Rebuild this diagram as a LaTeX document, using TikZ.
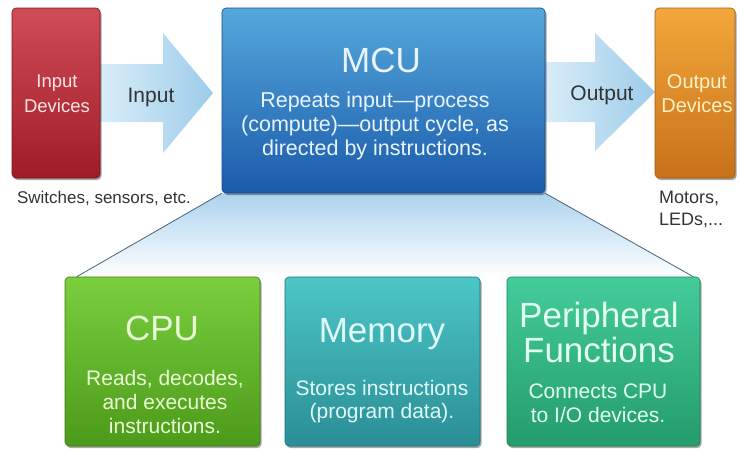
\documentclass[tikz,border=0pt]{standalone}
\usepackage{fontspec}
\setmainfont{Liberation Sans}
\usetikzlibrary{shadows}
\pgfdeclarelayer{background}
\pgfsetlayers{background,main}

% box colours: top / bottom / edge / text
\definecolor{inTop}{HTML}{D04C57}\definecolor{inBot}{HTML}{9E1C28}\definecolor{inEdge}{HTML}{7C121C}\definecolor{inTxt}{HTML}{FBE6E6}
\definecolor{mcuTop}{HTML}{55A8DC}\definecolor{mcuBot}{HTML}{1B5BAA}\definecolor{mcuEdge}{HTML}{134A8E}\definecolor{mcuTxt}{HTML}{EAF4FF}
\definecolor{outTop}{HTML}{F2A83A}\definecolor{outBot}{HTML}{C8701A}\definecolor{outEdge}{HTML}{A25A12}\definecolor{outTxt}{HTML}{FFF2C4}
\definecolor{cpuTop}{HTML}{7ACF3E}\definecolor{cpuBot}{HTML}{4C9A1A}\definecolor{cpuEdge}{HTML}{3C7C12}\definecolor{cpuTxt}{HTML}{EAFCD6}
\definecolor{memTop}{HTML}{4CC6C6}\definecolor{memBot}{HTML}{2A8E96}\definecolor{memEdge}{HTML}{1F7078}\definecolor{memTxt}{HTML}{E0FAFA}
\definecolor{perTop}{HTML}{44CC9A}\definecolor{perBot}{HTML}{249C6C}\definecolor{perEdge}{HTML}{1A7E56}\definecolor{perTxt}{HTML}{E2FFF0}
\definecolor{arrL}{HTML}{DCEEF8}\definecolor{arrR}{HTML}{9CCCEA}
\definecolor{fanTop}{HTML}{ACD2EE}\definecolor{fanLine}{HTML}{4A6276}
\definecolor{note}{HTML}{333333}

% stacked lines, baseline = first line
\newcommand{\ctrlines}[1]{\begin{tabular}[t]{@{}c@{}}#1\end{tabular}}
\newcommand{\leftlines}[1]{\begin{tabular}[t]{@{}l@{}}#1\end{tabular}}

\tikzset{
  box/.style={rectangle, rounded corners=4pt, line width=0.6pt,
    drop shadow={shadow xshift=1.5pt, shadow yshift=-2pt, opacity=0.35, fill=black}},
  txt/.style={anchor=base, inner sep=0pt},
  title/.style={txt, font=\fontsize{35}{33}\selectfont},
  body/.style={txt, font=\fontsize{21}{24}\selectfont},
  arrowshade/.style={left color=arrL, right color=arrR},
  notetxt/.style={txt, text=note}
}

\begin{document}
\begin{tikzpicture}[x=1pt, y=-1pt]
\useasboundingbox (0,0) rectangle (740,448);

% ---- boxes
\node[box, top color=inTop, bottom color=inBot, draw=inEdge,
      minimum width=88, minimum height=170] (indev) at (56,93) {};
\node[box, top color=mcuTop, bottom color=mcuBot, draw=mcuEdge,
      minimum width=323, minimum height=185] (mcu) at (383.5,100.5) {};
\node[box, top color=outTop, bottom color=outBot, draw=outEdge,
      minimum width=80, minimum height=170] (outdev) at (695,93) {};
\node[box, top color=cpuTop, bottom color=cpuBot, draw=cpuEdge,
      minimum width=195, minimum height=169] (cpu) at (162.5,361.5) {};
\node[box, top color=memTop, bottom color=memBot, draw=memEdge,
      minimum width=195, minimum height=169] (mem) at (382.5,361.5) {};
\node[box, top color=perTop, bottom color=perBot, draw=perEdge,
      minimum width=193, minimum height=169] (per) at (603.5,361.5) {};

% ---- arrow tips
\coordinate (inTip) at (213,93);
\coordinate (outTip) at (655,92);

\begin{pgfonlayer}{background}
  % fan from the MCU down to the three blocks
  \shade[top color=fanTop, bottom color=white]
    (mcu.south west) -- ([xshift=12pt]cpu.north west)
    -- ([xshift=-7pt]per.north east) -- (mcu.south east) -- cycle;
  \draw[fanLine, line width=0.8pt] (mcu.south west) -- ([xshift=12pt]cpu.north west);
  \draw[fanLine, line width=0.8pt] (mcu.south east) -- ([xshift=-7pt]per.north east);
  % input and output arrows
  \shade[arrowshade] (inTip) -- ++(-50,-60) -- ++(0,31) -- ++(-66,0)
    -- ++(0,58) -- ++(66,0) -- ++(0,31) -- cycle;
  \shade[arrowshade] (outTip) -- ++(-60,-59) -- ++(0,29) -- ++(-55,0)
    -- ++(0,60) -- ++(55,0) -- ++(0,29) -- cycle;
\end{pgfonlayer}

% ---- texts
\node[txt, text=inTxt, font=\fontsize{18.5}{25}\selectfont] (indev-t) at (57,87)
  {\ctrlines{Input\\Devices}};
\node[txt, text=outTxt, font=\fontsize{20}{24}\selectfont] (outdev-t) at (697,88)
  {\ctrlines{Output\\Devices}};

\node[txt, text=note, font=\fontsize{21}{24}\selectfont] (in-lbl) at (151,102) {Input};
\node[txt, text=note, font=\fontsize{21}{24}\selectfont] (out-lbl) at (602,100) {Output};

\node[notetxt, font=\fontsize{17}{22}\selectfont] (in-note) at (104,203)
  {Switches, sensors, etc.};
\node[notetxt, anchor=base west, font=\fontsize{18}{22}\selectfont] (out-note) at (659,203)
  {\leftlines{Motors,\\LEDs,...}};

\node[title, text=mcuTxt] (mcu-title) at (381,72) {MCU};
\node[txt, text=mcuTxt, font=\fontsize{21.5}{24}\selectfont] (mcu-body) at (375,107)
  {\ctrlines{Repeats input\textemdash process\\(compute)\textemdash output cycle, as\\directed by instructions.}};

\node[title, text=cpuTxt] (cpu-title) at (162,340) {CPU};
\node[body, text=cpuTxt] (cpu-body) at (165,385)
  {\ctrlines{Reads, decodes,\\and executes\\instructions.}};

\node[title, text=memTxt] (mem-title) at (382,342) {Memory};
\node[body, text=memTxt, font=\fontsize{21}{23}\selectfont] (mem-body) at (382,395)
  {\ctrlines{Stores instructions\\(program data).}};

\node[title, text=perTxt] (per-title) at (599,327) {\ctrlines{Peripheral\\Functions}};
\node[body, text=perTxt] (per-body) at (598,398)
  {\ctrlines{Connects CPU\\to I/O devices.}};
\end{tikzpicture}
\end{document}
